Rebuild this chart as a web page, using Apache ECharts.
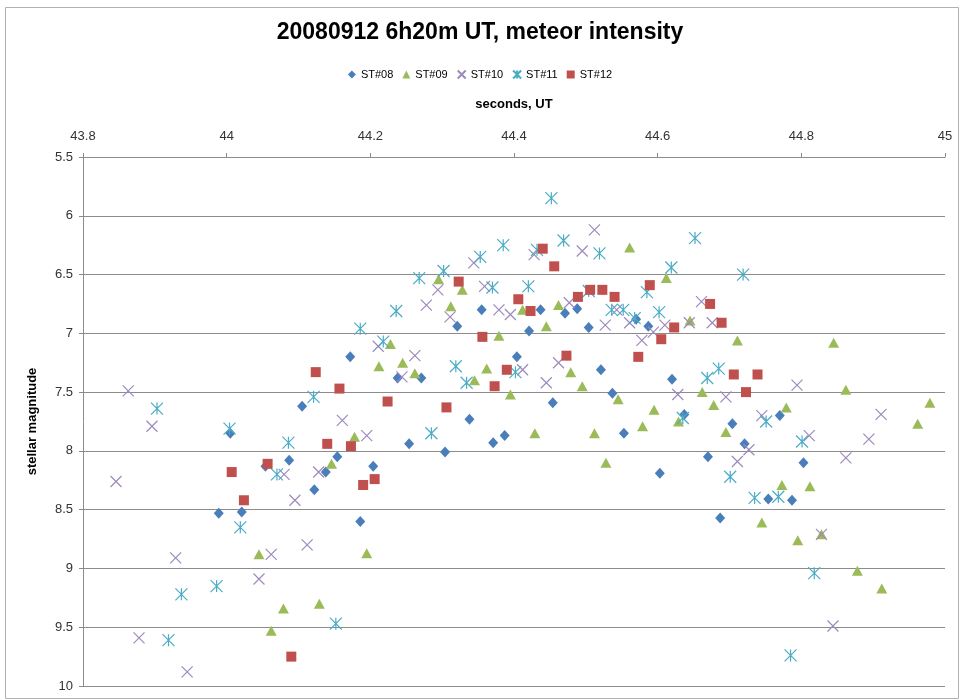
<!DOCTYPE html>
<html>
<head>
<meta charset="utf-8">
<script src="https://cdn.jsdelivr.net/npm/echarts@6/dist/echarts.min.js"></script>
<style>
  html, body { margin: 0; padding: 0; background: #ffffff; }
  #chart { width: 960px; height: 700px; }
</style>
</head>
<body>
<div id="chart"></div>
<script>
// Time (seconds past 06:20 UT) and stellar magnitude per station
const st08 = [
  [44.105, 7.62], [44.172, 7.20], [44.005, 7.85], [44.087, 8.08], [44.054, 8.13],
  [44.154, 8.05], [44.138, 8.18], [44.122, 8.33], [43.989, 8.53], [44.021, 8.52],
  [44.186, 8.60], [44.204, 8.13], [44.238, 7.38], [44.271, 7.38], [44.254, 7.94],
  [44.304, 8.01], [44.321, 6.94], [44.338, 7.73], [44.355, 6.80], [44.371, 7.93],
  [44.387, 7.87], [44.404, 7.20], [44.421, 6.98], [44.437, 6.80], [44.454, 7.59],
  [44.471, 6.83], [44.488, 6.79], [44.504, 6.95], [44.521, 7.31], [44.537, 7.51],
  [44.553, 7.85], [44.570, 6.88], [44.587, 6.94], [44.603, 8.19], [44.620, 7.39],
  [44.637, 7.69], [44.670, 8.05], [44.687, 8.57], [44.704, 7.77], [44.721, 7.94],
  [44.754, 8.41], [44.770, 7.70], [44.787, 8.42], [44.803, 8.10]
];
const st09 = [
  [44.178, 7.88], [44.146, 8.11], [44.045, 8.88], [44.079, 9.34], [44.129, 9.30],
  [44.062, 9.53], [44.195, 8.87], [44.212, 7.28], [44.228, 7.09], [44.245, 7.25],
  [44.262, 7.34], [44.295, 6.54], [44.312, 6.77], [44.328, 6.63], [44.345, 7.40],
  [44.362, 7.30], [44.379, 7.02], [44.395, 7.52], [44.412, 6.80], [44.429, 7.85],
  [44.445, 6.94], [44.462, 6.76], [44.479, 7.33], [44.495, 7.45], [44.512, 7.85],
  [44.528, 8.10], [44.545, 7.56], [44.561, 6.27], [44.579, 7.79], [44.595, 7.65],
  [44.612, 6.53], [44.629, 7.75], [44.645, 6.89], [44.662, 7.50], [44.678, 7.61],
  [44.695, 7.84], [44.711, 7.06], [44.745, 8.61], [44.773, 8.29], [44.779, 7.63],
  [44.795, 8.76], [44.812, 8.30], [44.828, 8.71], [44.845, 7.08], [44.862, 7.48],
  [44.878, 9.02], [44.912, 9.17], [44.962, 7.77], [44.979, 7.59]
];
const st10 = [
  [43.846, 8.26], [43.863, 7.49], [43.878, 9.59], [43.896, 7.79], [43.929, 8.91],
  [43.945, 9.88], [44.045, 9.09], [44.062, 8.88], [44.080, 8.20], [44.095, 8.42],
  [44.112, 8.80], [44.128, 8.18], [44.161, 7.74], [44.195, 7.87], [44.211, 7.11],
  [44.244, 7.37], [44.262, 7.19], [44.278, 6.76], [44.294, 6.63], [44.311, 6.86],
  [44.344, 6.40], [44.359, 6.60], [44.379, 6.80], [44.395, 6.84], [44.412, 7.31],
  [44.428, 6.33], [44.445, 7.42], [44.462, 7.25], [44.477, 6.74], [44.495, 6.30],
  [44.512, 6.12], [44.527, 6.93], [44.543, 6.80], [44.561, 6.91], [44.578, 7.06],
  [44.594, 6.99], [44.610, 6.93], [44.628, 7.52], [44.644, 6.91], [44.661, 6.73],
  [44.676, 6.91], [44.695, 7.54], [44.711, 8.09], [44.727, 7.99], [44.745, 7.70],
  [44.794, 7.44], [44.811, 7.87], [44.828, 8.71], [44.844, 9.49], [44.862, 8.06],
  [44.894, 7.90], [44.911, 7.69]
];
const st11 = [
  [43.903, 7.64], [43.919, 9.61], [43.937, 9.22], [43.986, 9.15], [44.004, 7.81],
  [44.019, 8.65], [44.070, 8.20], [44.086, 7.93], [44.121, 7.54], [44.152, 9.47],
  [44.186, 6.96], [44.218, 7.07], [44.236, 6.81], [44.268, 6.53], [44.285, 7.85],
  [44.302, 6.47], [44.319, 7.28], [44.334, 7.42], [44.353, 6.35], [44.370, 6.61],
  [44.385, 6.25], [44.402, 7.33], [44.420, 6.60], [44.432, 6.29], [44.452, 5.85],
  [44.469, 6.21], [44.504, 6.64], [44.519, 6.32], [44.536, 6.80], [44.552, 6.80],
  [44.568, 6.87], [44.585, 6.65], [44.602, 6.82], [44.619, 6.44], [44.635, 7.72],
  [44.652, 6.19], [44.669, 7.38], [44.685, 7.30], [44.701, 8.22], [44.719, 6.50],
  [44.735, 8.40], [44.751, 7.75], [44.768, 8.39], [44.785, 9.74], [44.801, 7.92],
  [44.818, 9.04]
];
const st12 = [
  [44.007, 8.18], [44.024, 8.42], [44.057, 8.11], [44.090, 9.75], [44.124, 7.33],
  [44.140, 7.94], [44.157, 7.47], [44.173, 7.96], [44.190, 8.29], [44.206, 8.24],
  [44.224, 7.58], [44.306, 7.63], [44.323, 6.56], [44.356, 7.03], [44.373, 7.45],
  [44.390, 7.31], [44.406, 6.71], [44.423, 6.81], [44.440, 6.28], [44.456, 6.43],
  [44.473, 7.19], [44.489, 6.69], [44.506, 6.63], [44.523, 6.63], [44.540, 6.69],
  [44.573, 7.20], [44.589, 6.59], [44.605, 7.05], [44.623, 6.95], [44.673, 6.75],
  [44.689, 6.91], [44.706, 7.35], [44.723, 7.50], [44.739, 7.35]
];

const stationNames = ['ST#08', 'ST#09', 'ST#10', 'ST#11', 'ST#12'];
const xTicks = { min: 43.8, max: 45, step: 0.2 };
const yTicks = { min: 5.5, max: 10, step: 0.5 };

const FONT = "'Liberation Sans Narrow', 'Liberation Sans', Arial, sans-serif";
const crossPath = 'path://M0,0L10,10M10,0L0,10';
const starPath = 'path://M0,0L10,10M10,0L0,10M5,0L5,10';

const chart = echarts.init(document.getElementById('chart'), null, { renderer: 'canvas' });

function strokeSeries(name, data, path, color, size) {
  return {
    name, type: 'scatter', data,
    symbol: path, symbolSize: size,
    itemStyle: { color: 'rgba(0,0,0,0)', borderColor: color, borderWidth: 1.2, opacity: 1 },
    emphasis: { disabled: true }
  };
}

chart.setOption({
  animation: false,
  backgroundColor: '#ffffff',
  graphic: [{
    type: 'rect', left: 3, top: 5, z: -1,
    shape: { width: 953, height: 691 },
    style: { fill: 'none', stroke: '#b0b0b0', lineWidth: 1 }
  }],
  title: {
    text: '20080912 6h20m UT, meteor intensity',
    left: 'center', top: 16,
    textStyle: { fontFamily: FONT, fontSize: 23, fontWeight: 'bold', color: '#000' }
  },
  legend: {
    data: stationNames,
    top: 64, left: 'center',
    itemWidth: 8, itemHeight: 8, itemGap: 9,
    textStyle: { fontFamily: FONT, fontSize: 11, color: '#000' }
  },
  grid: { left: 83, top: 157, right: 15, bottom: 14, containLabel: false },
  xAxis: {
    type: 'value', position: 'top',
    min: xTicks.min, max: xTicks.max, interval: xTicks.step,
    name: 'seconds, UT', nameLocation: 'middle', nameGap: 46,
    nameTextStyle: { fontFamily: FONT, fontSize: 13, fontWeight: 'bold', color: '#000' },
    axisLine: { show: true, lineStyle: { color: '#8c8c8c', width: 1 } },
    axisTick: { show: true, inside: false, length: 4, lineStyle: { color: '#8c8c8c' } },
    axisLabel: { fontFamily: FONT, fontSize: 13, color: '#333', margin: 14,
      formatter: v => String(Math.round(v * 10) / 10) },
    splitLine: { show: false }
  },
  yAxis: {
    type: 'value', inverse: true,
    min: yTicks.min, max: yTicks.max, interval: yTicks.step,
    name: 'stellar magnitude', nameLocation: 'middle', nameGap: 44, nameRotate: 90,
    nameTextStyle: { fontFamily: FONT, fontSize: 13, fontWeight: 'bold', color: '#000' },
    axisLine: { show: true, lineStyle: { color: '#8c8c8c', width: 1 } },
    axisTick: { show: true, inside: false, length: 4, lineStyle: { color: '#8c8c8c' } },
    axisLabel: { fontFamily: FONT, fontSize: 13, color: '#333', margin: 10,
      formatter: v => String(Math.round(v * 10) / 10) },
    splitLine: { show: true, lineStyle: { color: '#8c8c8c', width: 1 } }
  },
  series: [
    {
      name: 'ST#08', type: 'scatter', data: st08,
      symbol: 'diamond', symbolSize: [10, 11],
      itemStyle: { color: '#4a7ebb', opacity: 1 }, emphasis: { disabled: true }
    },
    {
      name: 'ST#09', type: 'scatter', data: st09,
      symbol: 'triangle', symbolSize: [11, 10],
      itemStyle: { color: '#9bbb59', opacity: 1 }, emphasis: { disabled: true }
    },
    strokeSeries('ST#10', st10, crossPath, '#9e89bd', 11),
    strokeSeries('ST#11', st11, starPath, '#4bacc6', 12),
    {
      name: 'ST#12', type: 'scatter', data: st12,
      symbol: 'rect', symbolSize: 10,
      itemStyle: { color: '#c0504d', opacity: 1 }, emphasis: { disabled: true }
    }
  ]
});
</script>
</body>
</html>
